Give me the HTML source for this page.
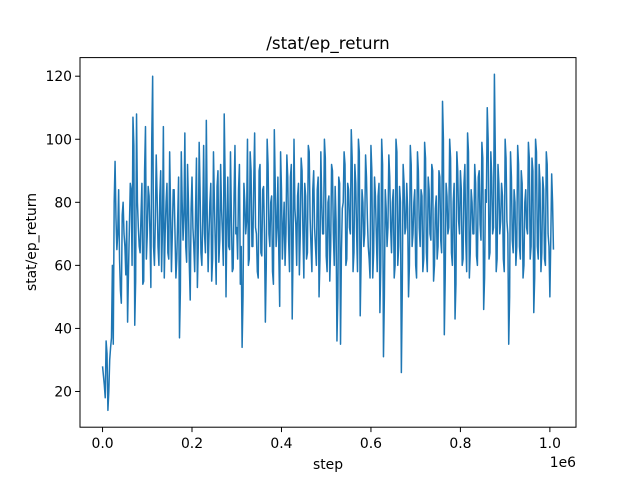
<!DOCTYPE html>
<html><head><meta charset="utf-8"><style>
body{margin:0;background:#fff}
svg text{font-family:"DejaVu Sans","Liberation Sans",sans-serif;fill:#000}
</style></head><body>
<svg id="chart" width="640" height="480" xmlns="http://www.w3.org/2000/svg">
<rect width="640" height="480" fill="#fff"/>
<text x="328" y="49" font-size="16.7" text-anchor="middle">/stat/ep_return</text>
<g id="plot"></g>
<rect x="80" y="57.6" width="496" height="369.6" fill="none" stroke="#000" stroke-width="1"/>
<text x="328" y="469" font-size="13.9" text-anchor="middle">step</text>
<text x="576" y="467" font-size="13.9" text-anchor="end">1e6</text>
<text transform="translate(36,242) rotate(-90)" font-size="13.9" text-anchor="middle">stat/ep_return</text>
</svg>
<script>
const xTicks=[0,0.2e6,0.4e6,0.6e6,0.8e6,1.0e6];
const xTickLabels=["0.0","0.2","0.4","0.6","0.8","1.0"];
const yTicks=[20,40,60,80,100,120];
const stepSize=2000;
const returnsEven=[28,22,36,14,30,37,35,93,65,84,
52,76,70,57,42,72,84,107,41,108,
72,64,86,55,104,70,82,53,120,60,
95,66,82,58,104,70,86,62,78,70,
84,56,75,37,96,68,102,61,80,49,
88,66,78,53,99,64,74,70,106,58,
80,55,96,67,85,61,92,70,108,50,
88,65,76,59,98,72,84,54,34,86,
70,100,62,90,66,102,70,56,92,63,
85,42,100,70,80,58,103,66,88,47,
84,72,60,95,68,88,43,100,73,82,
57,94,70,86,62,98,75,58,90,66,
84,50,96,70,100,63,80,55,92,70,
85,36,88,35,78,96,60,86,72,103,
58,92,70,100,44,84,66,95,75,62,
98,56,88,70,82,45,100,31,84,66,
95,72,80,56,100,60,85,26,92,70,
86,50,98,66,80,60,96,72,84,58,
99,64,88,70,92,55,78,62,90,68,
112,38,86,70,100,64,80,43,96,74,
90,60,86,68,102,56,84,70,92,63,
88,73,99,46,84,110,62,96,70,120.6,
58,92,70,86,62,100,74,35,96,68,
84,60,98,66,90,56,80,72,99,62,
94,45,100,66,92,58,88,62,96,70,
50,89,65];
const returnsOdd=[25,18,32,20,34,60,80,75,70,62,
48,80,66,74,58,86,60,98,55,80,
66,76,54,90,62,85,70,100,66,74,
82,60,90,72,56,80,64,96,58,84,
70,62,88,52,80,76,66,92,60,78,
72,58,94,66,84,60,98,64,76,70,
86,62,80,54,90,68,78,60,88,74,
66,96,58,82,70,62,92,66,50,80,
74,60,96,66,86,72,58,90,64,84,
70,60,92,66,82,54,86,72,64,96,
62,80,70,88,58,92,66,78,60,86,
70,90,56,82,64,96,66,84,72,60,
88,62,80,70,94,58,82,66,90,60,
74,50,86,64,80,92,62,84,70,94,
64,86,58,96,62,80,70,88,66,56,
90,64,82,58,86,60,92,50,78,72,
88,64,84,60,96,66,80,52,86,72,
78,60,92,70,84,56,90,66,82,62,
94,58,84,68,90,60,82,66,88,64,
100,56,82,72,94,60,86,54,90,70,
84,62,92,58,96,64,80,70,86,60,
90,68,94,56,80,100,64,88,72,96,
62,86,74,82,58,94,70,50,88,64,
80,66,92,62,86,60,84,70,94,66,
90,56,96,62,86,64,84,60,92,66,
68,80];
const returns=[];
returnsEven.forEach((v,i)=>{returns.push(v);if(i<returnsOdd.length)returns.push(returnsOdd[i]);});
const steps=returns.map((_,i)=>i*stepSize);
const X0=80,X1=576,Y0=427.2,Y1=57.6;
const xmin=-0.05*1.008e6,xmax=1.05*1.008e6;
const ymin=8.67,ymax=125.9;
function sx(v){return X0+(v-xmin)/(xmax-xmin)*(X1-X0);}
function sy(v){return Y0-(v-ymin)/(ymax-ymin)*(Y0-Y1);}
const ns="http://www.w3.org/2000/svg";
const g=document.getElementById('plot');
const svg=document.getElementById('chart');
const path=document.createElementNS(ns,'path');
path.setAttribute('d',returns.map((v,i)=>(i?'L':'M')+sx(steps[i]).toFixed(2)+','+sy(v).toFixed(2)).join(''));
path.setAttribute('fill','none');path.setAttribute('stroke','#1f77b4');path.setAttribute('stroke-width','1.5');path.setAttribute('stroke-linejoin','round');


g.appendChild(path);
xTicks.forEach((t,i)=>{
 const x=sx(t);
 const l=document.createElementNS(ns,'line');
 l.setAttribute('x1',x);l.setAttribute('x2',x);l.setAttribute('y1',Y0);l.setAttribute('y2',Y0+4.9);l.setAttribute('stroke','#000');
 
 
 svg.appendChild(l);
 const tx=document.createElementNS(ns,'text');
 tx.setAttribute('x',x);tx.setAttribute('y',Y0+21);tx.setAttribute('font-size','13.9');tx.setAttribute('text-anchor','middle');
 tx.textContent=xTickLabels[i];
 
 
 svg.appendChild(tx);
});
yTicks.forEach(t=>{
 const y=sy(t);
 const l=document.createElementNS(ns,'line');
 l.setAttribute('x1',X0-4.9);l.setAttribute('x2',X0);l.setAttribute('y1',y);l.setAttribute('y2',y);l.setAttribute('stroke','#000');
 
 
 svg.appendChild(l);
 const tx=document.createElementNS(ns,'text');
 tx.setAttribute('x',X0-8);tx.setAttribute('y',y+5);tx.setAttribute('font-size','13.9');tx.setAttribute('text-anchor','end');
 tx.textContent=String(t);
 
 
 svg.appendChild(tx);
});
</script>
</body></html>
